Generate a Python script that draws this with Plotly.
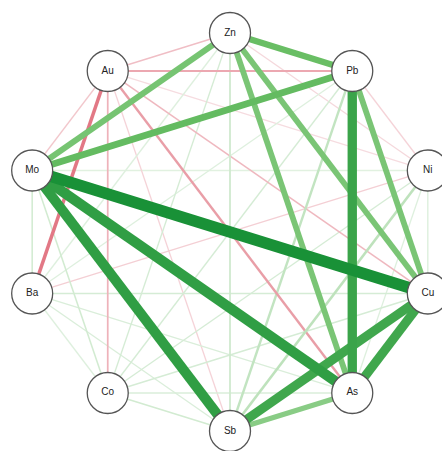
import math
import plotly.graph_objects as go

# ---- data ----
elements = ["Zn", "Pb", "Ni", "Cu", "As", "Sb", "Co", "Ba", "Mo", "Au"]
edge_from = ["Zn", "Zn", "Zn", "Zn", "Zn", "Zn", "Zn", "Zn", "Zn",
             "Pb", "Pb", "Pb", "Pb", "Pb", "Pb", "Pb", "Pb",
             "Ni", "Ni", "Ni", "Ni", "Ni", "Ni", "Ni",
             "Cu", "Cu", "Cu", "Cu", "Cu", "Cu",
             "As", "As", "As", "As", "As",
             "Sb", "Sb", "Sb", "Sb",
             "Co", "Co", "Co",
             "Ba", "Ba",
             "Mo"]
edge_to = ["Pb", "Ni", "Cu", "As", "Sb", "Co", "Ba", "Mo", "Au",
           "Ni", "Cu", "As", "Sb", "Co", "Ba", "Mo", "Au",
           "Cu", "As", "Sb", "Co", "Ba", "Mo", "Au",
           "As", "Sb", "Co", "Ba", "Mo", "Au",
           "Sb", "Co", "Ba", "Mo", "Au",
           "Co", "Ba", "Mo", "Au",
           "Ba", "Mo", "Au",
           "Mo", "Au",
           "Au"]
correlation = [0.60, -0.08, 0.55, 0.55, 0.22, 0.18, 0.12, 0.56, -0.18,
               -0.10, 0.55, 0.80, 0.28, 0.18, 0.12, 0.62, -0.25,
               0.15, 0.12, 0.30, 0.18, -0.12, 0.10, -0.06,
               0.78, 0.78, 0.18, 0.18, 0.95, -0.20,
               0.50, 0.15, 0.15, 0.85, -0.28,
               0.20, 0.15, 0.85, -0.10,
               0.12, 0.20, -0.22,
               0.20, -0.38,
               -0.15]

# ---- layout of nodes on a circle (Zn at top, clockwise) ----
n = len(elements)
pos = {}
for i, el in enumerate(elements):
    ang = math.pi / 2 - 2 * math.pi * i / n
    pos[el] = (math.cos(ang), math.sin(ang))


def mix(c0, c1, t):
    t = max(0.0, min(1.0, t))
    return tuple(int(round(a + (b - a) * t)) for a, b in zip(c0, c1))


def edge_style(r):
    t = min(abs(r), 1.0)
    if r >= 0:
        if t <= 0.6:
            c = mix((232, 244, 232), (105, 190, 100), (t / 0.6) ** 1.6)
        else:
            c = mix((105, 190, 100), (25, 145, 55), (t - 0.6) / 0.35)
    else:
        c = mix((248, 228, 231), (224, 112, 126), (t / 0.4) ** 1.4)
    w = max(1.3, 12.5 * t ** 1.3)
    return "rgb(%d,%d,%d)" % c, w


fig = go.Figure()
order = sorted(range(len(correlation)), key=lambda k: abs(correlation[k]))
for k in order:
    a, b, r = edge_from[k], edge_to[k], correlation[k]
    col, w = edge_style(r)
    fig.add_trace(go.Scatter(
        x=[pos[a][0], pos[b][0]], y=[pos[a][1], pos[b][1]],
        mode="lines", line=dict(color=col, width=w),
        hoverinfo="skip", showlegend=False))

fig.add_trace(go.Scatter(
    x=[pos[e][0] for e in elements], y=[pos[e][1] for e in elements],
    mode="markers+text", text=elements, textposition="middle center",
    textfont=dict(family="Liberation Sans, Arial", size=10, color="#222222"),
    marker=dict(size=41, color="white", line=dict(color="#555555", width=1.3)),
    cliponaxis=False, hoverinfo="text", showlegend=False))

Rx, Ry = 208.0, 199.0
cx, cy = 230.0, 232.0
W, H = 442, 451
fig.update_layout(
    width=W, height=H, margin=dict(l=0, r=0, t=0, b=0),
    paper_bgcolor="white", plot_bgcolor="white",
    xaxis=dict(range=[-cx / Rx, (W - cx) / Rx], visible=False, fixedrange=True),
    yaxis=dict(range=[-(H - cy) / Ry, cy / Ry], visible=False, fixedrange=True),
)
fig.write_html("out.html", config={"displayModeBar": False},
               post_script="document.body.style.margin='0px';document.body.style.overflow='hidden';")
